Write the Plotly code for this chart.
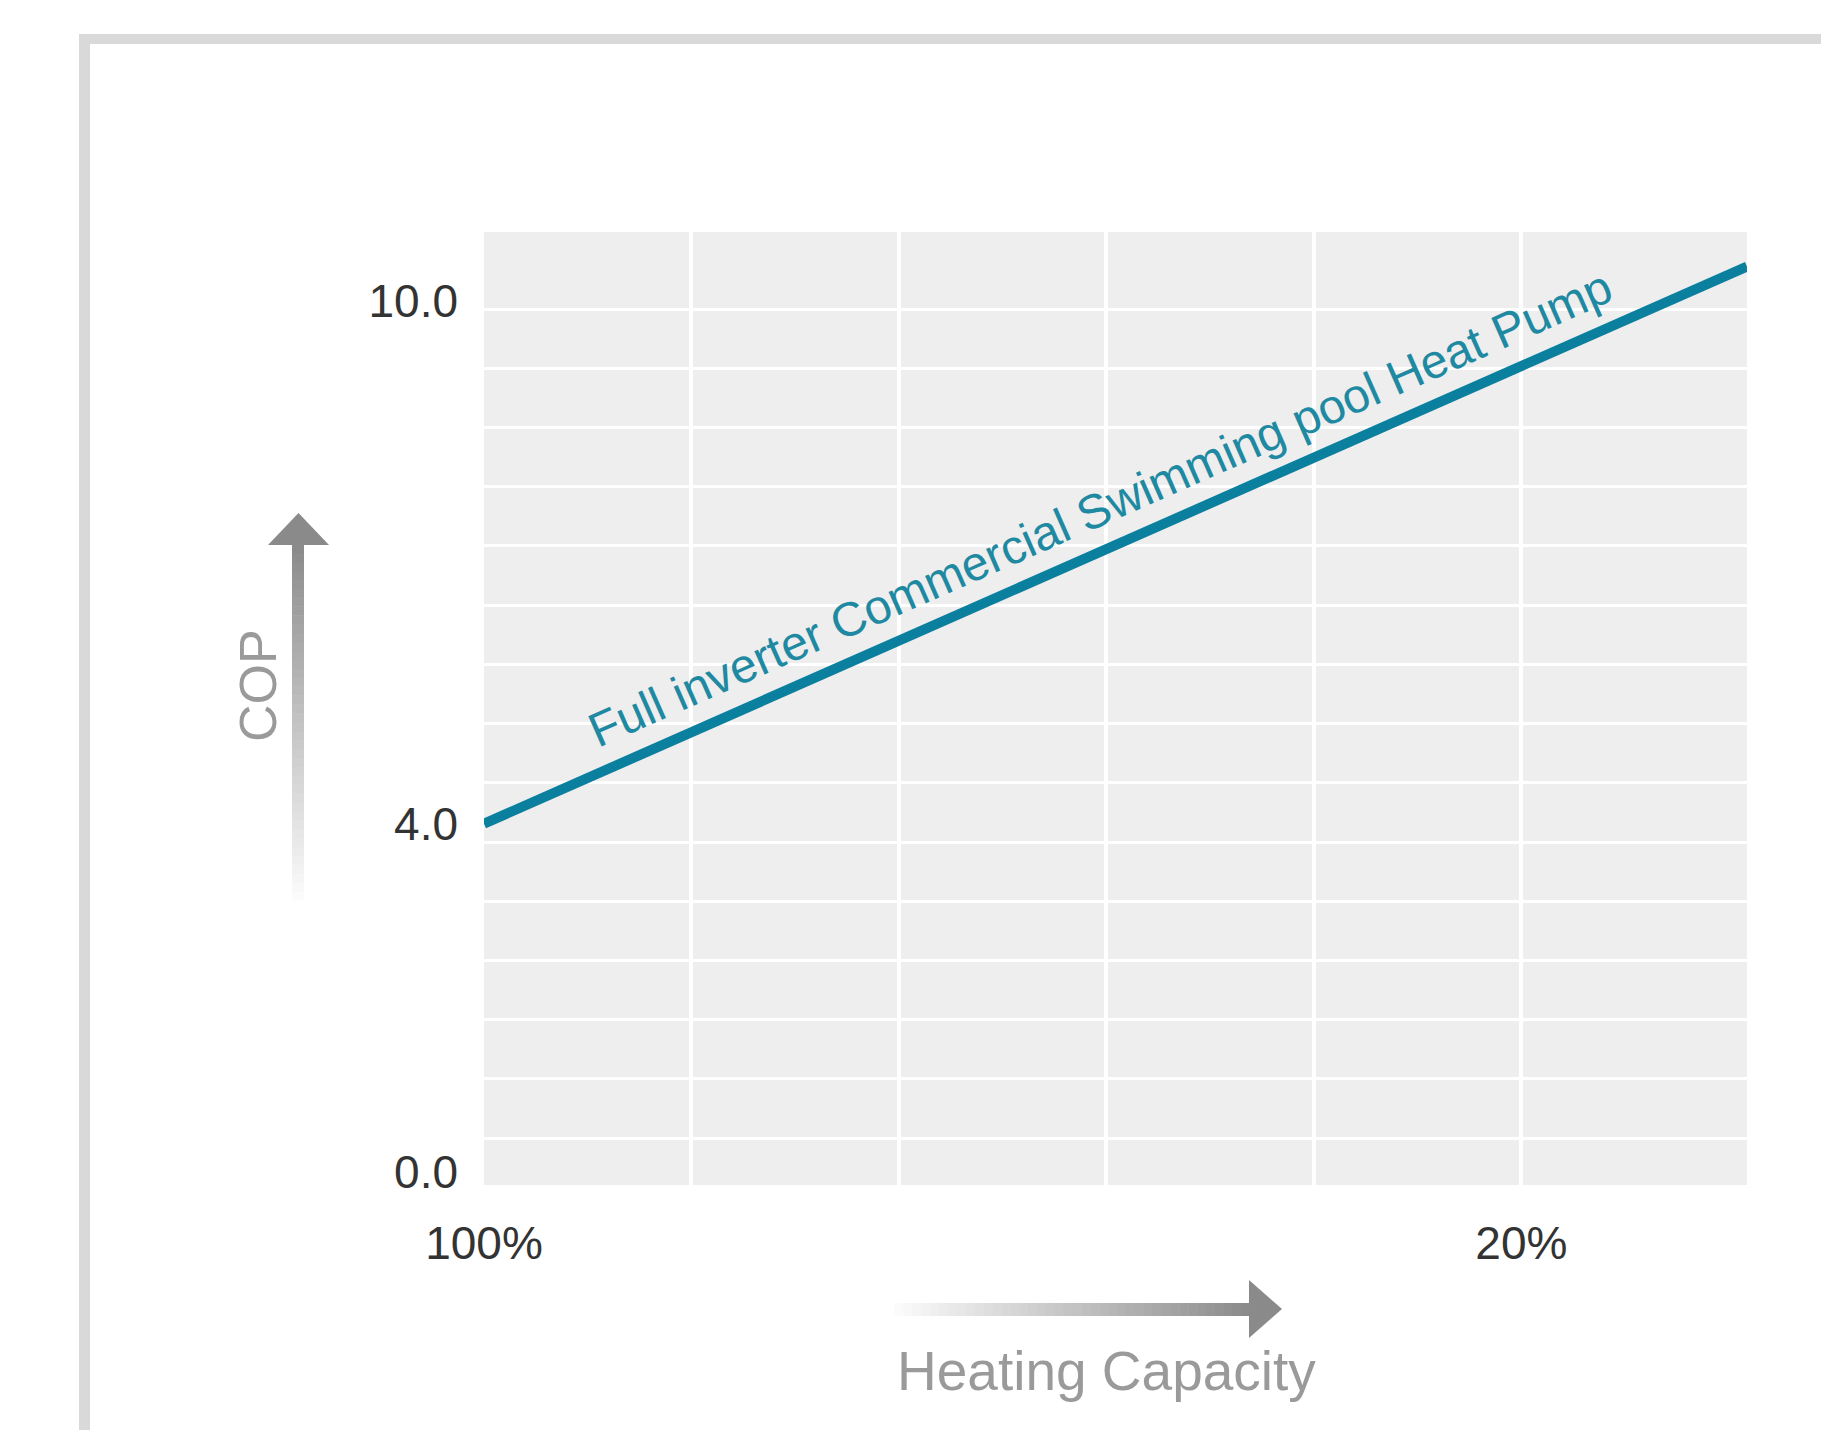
import plotly.graph_objects as go

# ---- data ----
capacity_pct = [100, 2.6]          # heating capacity (%) at the ends of the line
cop_values = [4.0, 10.4]           # COP at those points
series_name = "Full inverter Commercial Swimming pool Heat Pump"

x_tick_vals = [100, 20]
x_tick_text = ["100%", "20%"]
y_tick_vals = [0, 4, 10]
y_tick_text = ["0.0", "4.0", "10.0"]

x_axis_title = "Heating Capacity"
y_axis_title = "COP"

# ---- layout geometry (pixels) ----
FIG_W, FIG_H = 1821, 1430
PL, PR, PT, PB = 484, 1747, 232, 1185
PW, PH = PR - PL, PB - PT

def px(x):
    return (x - PL) / PW

def py(y):
    return (PB - y) / PH

FONT = "Liberation Sans, Arial, Helvetica, sans-serif"
LINE_COLOR = "#0b7f9e"
TEXT_TEAL = "#2089a2"
GREY_TXT = "#9a9a9a"

fig = go.Figure()
fig.add_trace(go.Scatter(
    x=capacity_pct, y=cop_values, mode="lines",
    line=dict(color=LINE_COLOR, width=10),
    name=series_name, showlegend=False, hoverinfo="skip",
))

# grid lines (styling)
x_grid = [84, 68, 52, 36, 20]
y_grid = [9.91 - 0.68 * k for k in range(15)]

fig.update_layout(
    width=FIG_W, height=FIG_H,
    margin=dict(l=PL, r=FIG_W - PR, t=PT, b=FIG_H - PB, pad=0),
    paper_bgcolor="white",
    plot_bgcolor="#eeeeee",
    font=dict(family=FONT, color="#333333"),
    xaxis=dict(
        range=[100, 2.6], tickmode="array", tickvals=x_tick_vals, ticktext=x_tick_text,
        showgrid=False, zeroline=False, showline=False, ticks="",
        tickfont=dict(size=46, color="#333333"), ticklabelstandoff=27,
        minor=dict(tickmode="array", tickvals=x_grid, showgrid=True,
                   gridcolor="white", gridwidth=4, ticks=""),
    ),
    yaxis=dict(
        range=[-0.149, 10.796], tickmode="array", tickvals=y_tick_vals, ticktext=y_tick_text,
        showgrid=False, zeroline=False, showline=False, ticks="",
        tickfont=dict(size=46, color="#333333"), ticklabelstandoff=25,
        minor=dict(tickmode="array", tickvals=y_grid, showgrid=True,
                   gridcolor="white", gridwidth=3, ticks=""),
    ),
)

shapes = []
# outer frame (top and left bars)
FRAME = "#d9d9d9"
shapes.append(dict(type="rect", xref="paper", yref="paper",
                   x0=px(79), x1=px(1830), y0=py(44), y1=py(34),
                   fillcolor=FRAME, line=dict(width=0), layer="below"))
shapes.append(dict(type="rect", xref="paper", yref="paper",
                   x0=px(79), x1=px(90), y0=py(1440), y1=py(34),
                   fillcolor=FRAME, line=dict(width=0), layer="below"))

def grey(t):
    # t=0 -> white, t=1 -> arrow grey
    a = (252, 252, 252)
    b = (138, 138, 138)
    c = tuple(int(round(a[i] + (b[i] - a[i]) * t)) for i in range(3))
    return "rgb(%d,%d,%d)" % c

N = 40
# vertical COP arrow
v_bot, v_top = 900, 544
for i in range(N):
    y0 = v_bot - (v_bot - v_top) * i / N
    y1 = v_bot - (v_bot - v_top) * (i + 1) / N
    shapes.append(dict(type="rect", xref="paper", yref="paper",
                       x0=px(292), x1=px(304), y0=py(y0 + 0.5), y1=py(y1),
                       fillcolor=grey((i + 0.5) / N), line=dict(width=0)))
shapes.append(dict(type="path", xref="paper", yref="paper",
                   path="M %f %f L %f %f L %f %f Z" % (px(268), py(545), px(329), py(545), px(298.5), py(513)),
                   fillcolor=grey(1.0), line=dict(width=0)))

# horizontal capacity arrow
h_left, h_right = 895, 1251
for i in range(N):
    x0 = h_left + (h_right - h_left) * i / N
    x1 = h_left + (h_right - h_left) * (i + 1) / N
    shapes.append(dict(type="rect", xref="paper", yref="paper",
                       x0=px(x0 - 0.5), x1=px(x1), y0=py(1316), y1=py(1303),
                       fillcolor=grey((i + 0.5) / N), line=dict(width=0)))
shapes.append(dict(type="path", xref="paper", yref="paper",
                   path="M %f %f L %f %f L %f %f Z" % (px(1249), py(1280), px(1249), py(1338), px(1282), py(1309)),
                   fillcolor=grey(1.0), line=dict(width=0)))

fig.update_layout(shapes=shapes)

annotations = [
    dict(text=series_name, x=52.5, y=7.62, xref="x", yref="y", showarrow=False,
         xanchor="center", yanchor="middle",
         textangle=-23.8, font=dict(size=48, color=TEXT_TEAL, family=FONT)),
    dict(text=y_axis_title, x=px(258), y=py(686), xref="paper", yref="paper",
         xanchor="center", yanchor="middle",
         showarrow=False, textangle=-90, font=dict(size=52, color=GREY_TXT, family=FONT)),
    dict(text=x_axis_title, x=px(1106), y=py(1371), xref="paper", yref="paper",
         xanchor="center", yanchor="middle",
         showarrow=False, font=dict(size=55, color=GREY_TXT, family=FONT)),
]
fig.update_layout(annotations=annotations)

fig.write_html("out.html", config={"displayModeBar": False},
               post_script="document.body.style.margin='0px';document.body.style.overflow='hidden';")
